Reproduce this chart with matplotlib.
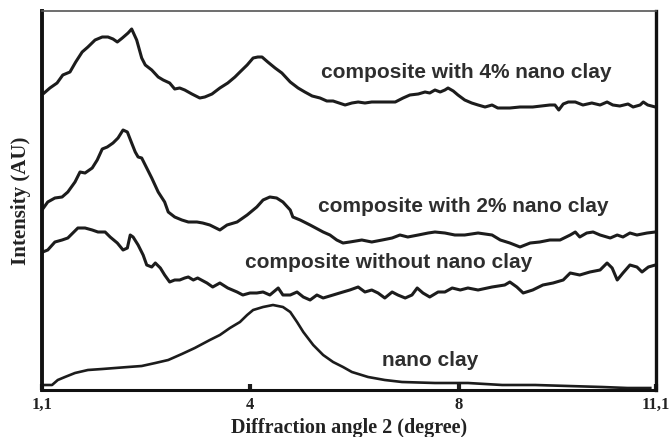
import numpy as np
import matplotlib
matplotlib.use("Agg")
import matplotlib.pyplot as plt

# ---- data (x in degrees, y in arbitrary units) ----
x_4pct = [1.13, 1.21, 1.31, 1.39, 1.49, 1.57, 1.66, 1.74, 1.84, 1.94, 2.02, 2.09, 2.15, 2.22, 2.30, 2.35,
          2.42, 2.49, 2.54, 2.63, 2.72, 2.79, 2.88, 2.95, 3.02, 3.09, 3.19, 3.30, 3.37, 3.47, 3.58, 3.69,
          3.79, 3.86, 3.96, 4.06, 4.15, 4.23, 4.34, 4.48, 4.61, 4.77, 4.92, 5.05, 5.19, 5.34, 5.47, 5.59,
          5.82, 5.95, 6.07, 6.20, 6.33, 6.45, 6.78, 6.93, 7.06, 7.22, 7.35, 7.44, 7.54, 7.64, 7.73, 7.79,
          7.89, 7.98, 8.09, 8.20, 8.30, 8.41, 8.52, 8.61, 8.72, 8.80, 8.96, 9.16, 9.43, 9.51, 9.57, 9.64,
          9.72, 9.83, 9.95, 10.09, 10.22, 10.33, 10.42, 10.53, 10.66, 10.74, 10.85, 10.90, 10.97, 11.09]
y_4pct = [297, 302, 307, 315, 318, 328, 338, 343, 350, 353, 353, 351, 348, 352, 357, 361,
          350, 332, 325, 320, 313, 310, 307, 301, 302, 300, 296, 292, 293, 296, 302, 307,
          313, 318, 325, 332, 333, 333, 328, 322, 317, 308, 302, 298, 294, 292, 289, 289,
          285, 287, 288, 287, 288, 288, 288, 292, 295, 296, 298, 297, 300, 298, 300, 302,
          299, 295, 290, 287, 285, 283, 285, 282, 282, 282, 283, 283, 285, 285, 280, 286,
          288, 288, 285, 287, 285, 288, 285, 284, 286, 283, 285, 288, 285, 283]

x_2pct = [1.10, 1.18, 1.28, 1.38, 1.46, 1.56, 1.63, 1.70, 1.80, 1.87, 1.94, 2.01, 2.09, 2.16, 2.23, 2.29,
          2.35, 2.40, 2.44, 2.49, 2.56, 2.63, 2.72, 2.81, 2.86, 2.95, 3.05, 3.14, 3.21, 3.26, 3.34, 3.44,
          3.58, 3.68, 3.82, 3.96, 4.13, 4.25, 4.38, 4.51, 4.63, 4.77, 4.82, 4.96, 5.15, 5.40, 5.53, 5.66,
          5.78, 5.91, 6.14, 6.33, 6.53, 6.72, 6.87, 7.02, 7.22, 7.41, 7.54, 7.73, 7.92, 8.09, 8.30, 8.52,
          8.65, 8.80, 8.96, 9.12, 9.27, 9.43, 9.59, 9.75, 9.83, 9.90, 10.01, 10.11, 10.22, 10.38, 10.49,
          10.58, 10.69, 10.80, 10.96, 11.09]
y_2pct = [180, 188, 192, 193, 198, 208, 218, 217, 222, 230, 241, 243, 247, 252, 260, 258,
          247, 238, 233, 232, 222, 212, 198, 188, 178, 173, 170, 168, 168, 168, 167, 165,
          160, 165, 168, 175, 183, 190, 193, 192, 188, 180, 173, 170, 165, 158, 155, 150,
          147, 148, 150, 148, 150, 152, 155, 153, 155, 157, 158, 157, 155, 155, 157, 155,
          150, 147, 143, 147, 148, 150, 150, 155, 158, 153, 157, 158, 155, 152, 155,
          153, 157, 155, 157, 158]

x_0pct = [1.11, 1.18, 1.28, 1.38, 1.46, 1.53, 1.60, 1.70, 1.80, 1.88, 1.98, 2.05, 2.15, 2.23, 2.29, 2.33,
          2.37, 2.44, 2.51, 2.56, 2.63, 2.68, 2.75, 2.81, 2.88, 2.95, 3.02, 3.09, 3.14, 3.21, 3.27, 3.40,
          3.48, 3.58, 3.69, 3.82, 3.90, 4.00, 4.13, 4.25, 4.38, 4.54, 4.63, 4.77, 4.90, 5.02, 5.15, 5.28,
          5.40, 5.59, 5.78, 5.91, 6.07, 6.20, 6.33, 6.45, 6.58, 6.72, 6.83, 6.97, 7.10, 7.20, 7.31, 7.44,
          7.60, 7.73, 7.87, 8.02, 8.14, 8.30, 8.52, 8.72, 8.80, 8.91, 9.01, 9.16, 9.32, 9.48, 9.64, 9.75,
          9.90, 10.06, 10.22, 10.33, 10.41, 10.49, 10.58, 10.69, 10.80, 10.88, 10.98, 11.09]
y_0pct = [138, 140, 148, 150, 152, 157, 162, 162, 160, 158, 158, 153, 147, 140, 142, 155,
          153, 145, 135, 125, 123, 127, 122, 115, 108, 110, 110, 112, 113, 110, 112, 107,
          103, 107, 102, 98, 95, 97, 97, 98, 95, 102, 95, 95, 98, 93, 90, 95,
          92, 95, 98, 100, 103, 98, 100, 97, 92, 98, 95, 92, 95, 102, 97, 93,
          98, 98, 102, 100, 102, 100, 103, 105, 108, 103, 97, 100, 105, 107, 110, 117,
          115, 118, 120, 127, 122, 110, 117, 125, 123, 118, 123, 125]

x_clay = [1.11, 1.24, 1.32, 1.42, 1.56, 1.74, 1.94, 2.12, 2.30, 2.49, 2.68, 2.86, 3.05, 3.23, 3.44, 3.58,
          3.72, 3.86, 3.96, 4.06, 4.25, 4.44, 4.63, 4.77, 4.90, 5.02, 5.21, 5.40, 5.59, 5.78, 5.95, 6.26,
          6.58, 6.91, 7.54, 8.14, 8.68, 9.20, 9.72, 10.25, 10.65, 11.01]
y_clay = [5, 5, 10, 13, 17, 20, 21, 22, 23, 24, 27, 30, 36, 42, 50, 55,
          62, 68, 75, 80, 83, 85, 83, 78, 68, 58, 45, 35, 28, 23, 18, 13,
          10, 8, 7, 7, 5, 5, 4, 3, 2, 2]

series_labels = ["composite with 4% nano clay", "composite with 2% nano clay",
                 "composite without nano clay", "nano clay"]
tick_values = [1.1, 4, 8, 11.1]
tick_labels = ["1,1", "4", "8", "11,1"]

# ---- non-uniform x axis as drawn in the original ----
axis_pos = [0.0, 208.0, 417.0, 614.0]

def fwd(v):
    return np.interp(v, tick_values, axis_pos)

def inv(v):
    return np.interp(v, axis_pos, tick_values)

fig = plt.figure(figsize=(6.7, 4.37), dpi=100)
ax = fig.add_axes([42 / 670, 47 / 437, 614 / 670, 379 / 437])
ax.set_xscale("function", functions=(fwd, inv))

lc = "#1c1c1c"
lw = 2.2
for xs, ys in [(x_4pct, y_4pct), (x_2pct, y_2pct), (x_0pct, y_0pct)]:
    ax.plot(xs, ys, color=lc, lw=lw, solid_joinstyle="round")
ax.plot(x_clay, y_clay, color=lc, lw=1.9)

ax.set_xlim(1.1, 11.1)
ax.set_ylim(0, 379)
ax.set_yticks([])
ax.set_xticks(tick_values)
ax.set_xticklabels(tick_labels, fontfamily="Liberation Serif", fontweight="bold", fontsize=12, color="#222222")
ax.tick_params(axis="x", direction="in", length=4, width=3, pad=5, color=lc)

for side, w, c in [("left", 2.8, "#111111"), ("right", 2.4, "#111111"),
                   ("bottom", 2.2, "#111111"), ("top", 1.2, "#555555")]:
    ax.spines[side].set_linewidth(w)
    ax.spines[side].set_color(c)

ax.set_xlabel("Diffraction angle 2 (degree)", fontfamily="Liberation Serif", fontweight="bold",
              fontsize=14.5, color="#222222", labelpad=4)
ax.set_ylabel("Intensity (AU)", fontfamily="Liberation Serif", fontweight="bold",
              fontsize=15, color="#222222", labelpad=8)

txt_kw = dict(fontfamily="Liberation Sans", fontweight="bold", fontsize=15, color="#2e2e2e",
              va="center", ha="left", transform=ax.transAxes)
label_pos = [((321 - 42) / 614, (390 - 72) / 379),
             ((318 - 42) / 614, (390 - 207) / 379),
             ((245 - 42) / 614, (390 - 263) / 379),
             ((382 - 42) / 614, (390 - 360) / 379)]
for s, (px, py) in zip(series_labels, label_pos):
    ax.text(px, py, s, **txt_kw)

fig.savefig("out.png", dpi=100)
